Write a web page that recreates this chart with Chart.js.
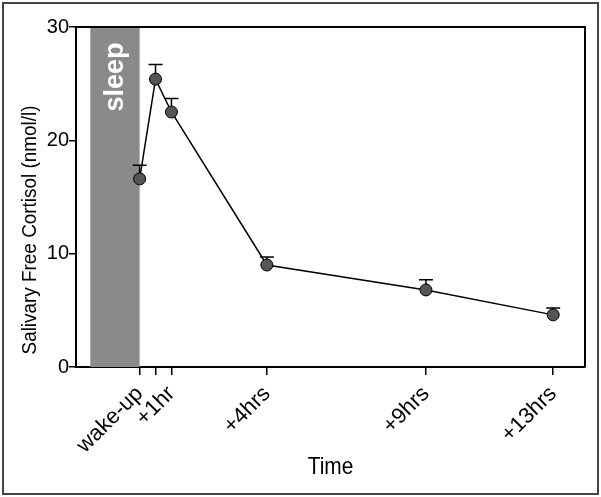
<!DOCTYPE html>
<html>
<head>
<meta charset="utf-8">
<script src="https://cdn.jsdelivr.net/npm/chart.js@4.4.1/dist/chart.umd.min.js"></script>
<style>
  html, body { margin: 0; padding: 0; background: #ffffff; }
  #wrap { width: 601px; height: 497px; position: relative; }
</style>
</head>
<body>
<div id="wrap"><canvas id="chart" width="601" height="497"></canvas></div>
<script>
// hours relative to wake-up
const times = [0, 0.5, 1, 4, 9, 13];
const cortisol = [16.6, 25.4, 22.5, 9.0, 6.8, 4.6];
const cortisolErr = [1.2, 1.3, 1.2, 0.7, 0.9, 0.6];
const tickTimes = [0, 0.5, 1, 4, 9, 13];
const tickNames = { 0: "wake-up", 1: "+1hr", 4: "+4hrs", 9: "+9hrs", 13: "+13hrs" };
const sleepSpan = [-1.55, 0];

const FONT = "'Liberation Sans', Arial, sans-serif";
const Y_TITLE = "Salivary Free Cortisol (nmol/l)";
const X_TITLE = "Time";

// draws text squeezed along its own direction (the original uses a narrow face)
function narrowText(ctx, text, x, y, angle, size, squeeze) {
    ctx.save();
    ctx.translate(x, y);
    ctx.rotate(angle);
    ctx.scale(squeeze, 1);
    ctx.fillStyle = "#000000";
    ctx.font = size + "px " + FONT;
    ctx.textAlign = "center";
    ctx.textBaseline = "middle";
    ctx.fillText(text, 0, 0);
    ctx.restore();
}

const extrasPlugin = {
    id: "extras",
    beforeDatasetsDraw(chart) {
        const { ctx, chartArea, scales: { x, y } } = chart;

        // sleep block
        const x0 = x.getPixelForValue(sleepSpan[0]);
        const x1 = x.getPixelForValue(sleepSpan[1]);
        ctx.save();
        ctx.fillStyle = "#8a8a8a";
        ctx.fillRect(x0, chartArea.top, x1 - x0, chartArea.bottom - chartArea.top);
        ctx.translate((x0 + x1) / 2 + 1, chartArea.top + 50);
        ctx.rotate(-Math.PI / 2);
        ctx.fillStyle = "#ffffff";
        ctx.font = "bold 27px " + FONT;
        ctx.textAlign = "center";
        ctx.textBaseline = "middle";
        ctx.fillText("sleep", 0, 0);
        ctx.restore();

        // upper error bars
        ctx.save();
        ctx.strokeStyle = "#000000";
        ctx.lineWidth = 1.5;
        times.forEach((t, i) => {
            const px = x.getPixelForValue(t);
            const py = y.getPixelForValue(cortisol[i]);
            const pt = y.getPixelForValue(cortisol[i] + cortisolErr[i]);
            ctx.beginPath();
            ctx.moveTo(px, py);
            ctx.lineTo(px, pt);
            ctx.moveTo(px - 7, pt);
            ctx.lineTo(px + 7, pt);
            ctx.stroke();
        });
        ctx.restore();
    },
    afterDraw(chart) {
        const { ctx, chartArea } = chart;

        // axis titles
        narrowText(ctx, Y_TITLE, 30, chartArea.bottom - 137, -Math.PI / 2, 21, 0.9);
        narrowText(ctx, X_TITLE, (chartArea.left + chartArea.right) / 2, 467, 0, 24, 0.87);

        ctx.save();
        // plot frame (top and right)
        ctx.strokeStyle = "#000000";
        ctx.lineWidth = 2;
        ctx.beginPath();
        ctx.moveTo(chartArea.left, chartArea.top);
        ctx.lineTo(chartArea.right, chartArea.top);
        ctx.lineTo(chartArea.right, chartArea.bottom);
        ctx.stroke();
        // outer picture border
        ctx.strokeStyle = "#444444";
        ctx.lineWidth = 2;
        ctx.strokeRect(3, 3, chart.width - 6, chart.height - 6);
        ctx.restore();
    }
};

new Chart(document.getElementById("chart"), {
    type: "scatter",
    data: {
        datasets: [{
            data: times.map((t, i) => ({ x: t, y: cortisol[i] })),
            showLine: true,
            borderColor: "#000000",
            borderWidth: 1.5,
            pointRadius: 6,
            pointBackgroundColor: "#555555",
            pointBorderColor: "#000000",
            pointBorderWidth: 1
        }]
    },
    options: {
        responsive: false,
        animation: false,
        layout: { padding: { top: 27, right: 16, left: 0, bottom: 0 } },
        plugins: {
            legend: { display: false },
            tooltip: { enabled: false }
        },
        scales: {
            x: {
                type: "linear",
                min: -2,
                max: 14,
                afterBuildTicks: (scale) => { scale.ticks = tickTimes.map(v => ({ value: v })); },
                afterFit: (scale) => { scale.height = 130; },
                ticks: {
                    autoSkip: false,
                    minRotation: 45,
                    maxRotation: 45,
                    padding: 6,
                    color: "#000000",
                    font: { family: FONT, size: 22 },
                    callback: (v) => tickNames[v] || ""
                },
                grid: { display: true, drawOnChartArea: false, tickLength: 8, color: "#000000", lineWidth: 1.5 },
                border: { display: true, color: "#000000", width: 2 },
                title: { display: false }
            },
            y: {
                min: 0,
                max: 30,
                afterFit: (scale) => { scale.width = 76; },
                ticks: {
                    stepSize: 10,
                    padding: 0,
                    color: "#000000",
                    font: { family: FONT, size: 20 }
                },
                grid: { display: true, drawOnChartArea: false, tickLength: 7, color: "#000000", lineWidth: 1.5 },
                border: { display: true, color: "#000000", width: 2 },
                title: { display: false }
            }
        }
    },
    plugins: [extrasPlugin]
});
</script>
</body>
</html>
